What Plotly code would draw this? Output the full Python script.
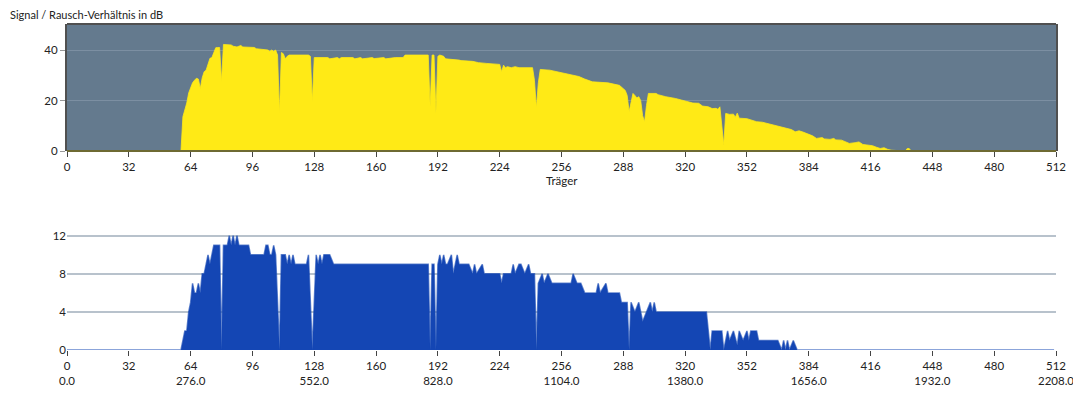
import plotly.graph_objects as go

# ---- data ----
snr_carrier = [0, 59, 60, 61, 62, 63, 64, 65, 66, 67, 68, 69, 70, 71, 72, 73, 74, 75, 76, 77, 78, 79, 80, 81,
               85, 86, 88, 90, 91, 97, 98, 100, 104, 105, 106, 107, 108, 109, 110, 111, 112, 113, 114, 115,
               125, 126, 127, 128, 135, 136, 140, 141, 142, 148, 149, 152, 153, 158, 159, 164, 165, 170, 174, 175,
               187, 188, 189, 190, 191, 192, 193, 195, 196, 203, 204, 210, 213, 217, 220, 224, 225, 226, 227,
               228, 230, 232, 234, 241, 242, 243, 244, 245, 250, 256, 260, 265, 268, 272, 280, 286, 289, 290,
               291, 292, 293, 294, 295, 296, 297, 298, 299, 300, 301, 305, 306, 310, 312, 315, 318, 321, 324,
               327, 329, 332, 334, 336, 337, 338, 339, 340, 341, 343, 345, 346, 347, 348, 352, 354, 357, 360,
               363, 367, 369, 372, 375, 377, 379, 381, 384, 386, 388, 391, 392, 395, 397, 398, 401, 403, 405,
               408, 410, 412, 414, 417, 419, 421, 423, 425, 427, 429, 430, 434, 435, 436, 437, 511]
snr_db = [0, 0, 13.6, 16, 19, 23, 25.5, 27, 28, 28.8, 28.5, 24.8, 29, 31.4, 32, 34, 36.7, 37, 38.7, 40.9, 41, 41, 27.4, 42.2,
          42, 41.5, 41.2, 41.8, 41.2, 41, 40.5, 40.3, 40, 39.5, 40, 39.5, 40, 38, 15, 39, 38.5, 36.5, 37.5, 38,
          38, 37.5, 19.5, 37, 37, 36.5, 37, 36.5, 37, 37, 36.5, 37, 36.5, 37, 36.6, 37, 36.5, 37, 37, 38,
          38, 17.5, 38, 38, 15, 37.5, 38, 37.5, 36.5, 36, 35.8, 35.5, 35, 34.7, 34.5, 34.3, 31.4, 34, 33,
          33.4, 33, 33.4, 33, 33, 28, 17, 27, 32.3, 32, 31, 30.5, 29.5, 28.5, 27.4, 27, 26, 24, 22,
          15.6, 20, 22.8, 22, 21, 21.5, 20, 14, 11.6, 18, 22.8, 22.8, 22.3, 21.5, 21.3, 20.8, 20.2, 19.5, 19,
          18.9, 17.8, 17.5, 16.8, 16.9, 16.5, 17.5, 10, 2.4, 14.9, 14.5, 14.6, 13.4, 15, 13, 12.8, 12.4, 11.6, 11.4,
          10.8, 10.3, 9.8, 9.2, 8.5, 7.6, 8, 7.5, 6.6, 6, 5, 5.3, 4.8, 4.6, 5, 4.4, 4.3, 3.7, 3,
          3.3, 3.6, 2.6, 2.4, 2.1, 1.5, 1, 1.3, 0.6, 0.3, 0.2, 0, 0, 1, 1, 0, 0]

bits_carrier = [0, 59, 61, 62, 63, 64, 65, 66, 67, 68, 69, 70, 71, 72, 73, 74, 75, 76, 79, 80, 81, 83, 84, 85, 86,
                87, 88, 89, 94, 95, 102, 103, 104, 105, 106, 107, 108, 110, 111, 113, 114, 115, 116, 117, 118,
                124, 125, 127, 129, 130, 131, 132, 133, 136, 138, 187, 188, 189, 190, 191, 192, 193, 194, 195,
                196, 197, 199, 200, 202, 203, 208, 210, 211, 212, 215, 216, 224, 225, 226, 230, 231, 232, 234,
                235, 237, 239, 240, 242, 243, 244, 246, 247, 249, 251, 261, 262, 264, 266, 268, 274, 275, 276,
                279, 280, 286, 287, 290, 291, 292, 294, 296, 298, 300, 302, 303, 304, 305, 331, 333, 334, 339,
                340, 342, 343, 345, 347, 348, 350, 352, 353, 354, 357, 358, 368, 370, 371, 372, 373, 374, 376,
                378, 511]
bits_value = [0, 0, 2, 2, 4, 5, 7, 6, 6, 7, 6, 8, 8, 9, 10, 9, 10, 11, 11, 0, 11, 11, 12, 11, 12,
              11, 12, 11, 11, 10, 10, 11, 11, 10, 10, 11, 10, 0, 10, 10, 9, 10, 9, 10, 9,
              9, 10, 0, 10, 9, 10, 9, 10, 10, 9, 9, 0, 9, 9, 0, 9, 10, 9, 10,
              9, 9, 10, 8, 10, 9, 9, 8, 9, 8, 9, 8, 8, 7, 8, 8, 9, 8, 9,
              9, 8, 9, 8, 8, 0, 7, 8, 7, 8, 7, 7, 8, 7, 7, 6, 6, 7, 6,
              7, 6, 6, 5, 5, 0, 5, 4, 5, 3, 4, 5, 4, 5, 4, 4, 0, 2, 2,
              0, 2, 1, 2, 0.5, 2, 1, 2, 1, 2, 2, 1, 1, 0, 1, 0, 1, 0, 1,
              0, 0]

tick_vals = [0, 32, 64, 96, 128, 160, 192, 224, 256, 288, 320, 352, 384, 416, 448, 480, 512]
freq_labels = ["0.0", "276.0", "552.0", "828.0", "1104.0", "1380.0", "1656.0", "1932.0", "2208.0"]

bottom_ticktext = []
for i, v in enumerate(tick_vals):
    if i % 2 == 0:
        bottom_ticktext.append(f"{v}<br>{freq_labels[i // 2]}")
    else:
        bottom_ticktext.append(f"{v}")

# ---- figure ----
# the page body adds an 8px offset; the figure is sized so the plot lands where the reference has it
FONT = "Lato"
PH = 326  # plot height in px (from top of upper plot to bottom of lower plot)
fig = go.Figure()
fig.add_trace(go.Scatter(x=snr_carrier, y=snr_db, mode="lines", fill="tozeroy",
                         line=dict(color="#ffea16", width=0.8), fillcolor="#ffea16",
                         xaxis="x", yaxis="y", showlegend=False))
fig.add_trace(go.Scatter(x=bits_carrier, y=bits_value, mode="lines", fill="tozeroy",
                         line=dict(color="rgba(20,70,180,0.65)", width=1.5), fillcolor="#1446b4",
                         xaxis="x2", yaxis="y2", showlegend=False))

top_bottom = (350 - 151) / PH
bot_top = (350 - 231) / PH

fig.update_layout(
    width=1065, height=378,
    margin=dict(l=59, r=17, t=16, b=36),
    paper_bgcolor="white",
    plot_bgcolor="white",
    font=dict(family=FONT, size=11.5, color="#222"),
    xaxis=dict(domain=[0, 1], range=[0, 512], tickvals=tick_vals, ticktext=[str(v) for v in tick_vals],
               ticks="outside", ticklen=5, tickcolor="#444", showgrid=False, zeroline=False,
               showline=False, anchor="y", automargin=False, ticklabeloverflow="allow"),
    yaxis=dict(domain=[top_bottom, 1], range=[0, 50.3], tickvals=[0, 20, 40],
               ticks="outside", ticklen=5, tickcolor="#999", showgrid=True, gridcolor="#7c8fa2",
               gridwidth=1, zeroline=False, showline=True, linecolor="#505050", linewidth=2, mirror=True,
               anchor="x", automargin=False),
    xaxis2=dict(domain=[0, 1], range=[0, 512], tickvals=tick_vals, ticktext=bottom_ticktext,
                ticks="outside", ticklen=5, tickcolor="#444", showgrid=False, zeroline=False,
                showline=False, anchor="y2", automargin=False, ticklabeloverflow="allow"),
    yaxis2=dict(domain=[0, bot_top], range=[0, 12.5], tickvals=[0, 4, 8, 12],
                ticks="", showgrid=True, gridcolor="#b8c2cc", gridwidth=2, zeroline=False,
                showline=False, anchor="x2", automargin=False),
    shapes=[
        dict(type="rect", xref="x domain", yref="y domain", x0=0, x1=1, y0=0, y1=1,
             fillcolor="#647a8e", line=dict(width=0), layer="below"),
        dict(type="line", xref="x domain", yref="y domain", x0=0, x1=1, y0=1, y1=1,
             line=dict(color="#505050", width=2), layer="above"),
        dict(type="line", xref="x domain", yref="y domain", x0=0, x1=1, y0=0, y1=0,
             line=dict(color="#6e6a32", width=2), layer="above"),
    ],
    annotations=[
        dict(text="Signal / Rausch-Verhältnis in dB", xref="paper", yref="paper",
             x=(8 - 67) / 989, y=(350 - 15) / PH, xanchor="left", yanchor="middle",
             showarrow=False, font=dict(family=FONT, size=11, color="#222")),
        dict(text="Träger", xref="paper", yref="paper", x=0.5, y=(350 - 180) / PH,
             xanchor="center", yanchor="middle", showarrow=False,
             font=dict(family=FONT, size=11.5, color="#222")),
    ],
)

fig.write_html("out.html")
